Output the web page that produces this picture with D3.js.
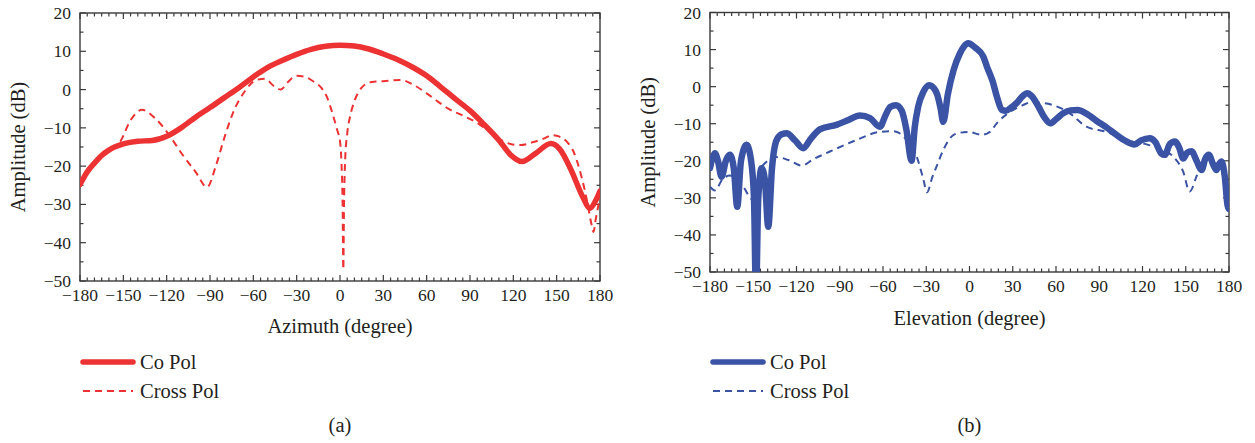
<!DOCTYPE html>
<html>
<head>
<meta charset="utf-8">
<script src="https://cdn.jsdelivr.net/npm/d3@7"></script>
<style>
  body { margin: 0; background: #fff; }
  svg { display: block; }
  text { font-family: "Liberation Serif", "DejaVu Serif", serif; fill: #231f20; }
</style>
</head>
<body>
<svg id="chart" width="1255" height="443"></svg>
<script>
'use strict';

// axis ranges and ticks
const xTicks = [-180, -150, -120, -90, -60, -30, 0, 30, 60, 90, 120, 150, 180];
const yTicks = [20, 10, 0, -10, -20, -30, -40, -50];
const legendLabels = ['Co Pol', 'Cross Pol'];

// (a) azimuth cut, [degree, dB]
const azimuthCo = [
  [-180, -24.8], [-175, -21.5], [-170, -19.2], [-165, -17.2], [-160, -15.8], [-150, -14.2],
  [-140, -13.5], [-130, -13.3], [-120, -12.2], [-110, -10], [-100, -7.2], [-90, -4.7],
  [-80, -2.1], [-70, 0.5], [-60, 3.3], [-50, 5.8], [-40, 7.6], [-30, 9.2], [-20, 10.5],
  [-10, 11.3], [0, 11.6], [10, 11.4], [20, 10.6], [30, 9.3], [40, 7.8], [50, 5.9],
  [60, 3.6], [70, 0.6], [80, -2.5], [90, -5.5], [100, -9.2], [110, -13.2], [118, -17],
  [126, -18.8], [135, -16.8], [146, -14.1], [152, -15.5], [160, -21], [168, -28],
  [173, -31], [177, -29], [180, -26.5]
];
const azimuthCross = [
  [-180, -25], [-170, -19.5], [-160, -16], [-152, -13.5], [-145, -8], [-137, -5.3],
  [-128, -7.5], [-118, -12], [-110, -16.5], [-100, -21.5], [-92, -25.5], [-86, -20],
  [-80, -12.5], [-74, -6], [-66, -0.5], [-58, 2.5], [-52, 2.8], [-46, 1], [-41, 0],
  [-36, 2], [-30, 3.6], [-25, 3.4], [-18, 2], [-13, 0.5], [-9, -2], [-5, -6.5],
  [-2, -10.5], [0, -13.5], [1, -19], [1.8, -30], [2.3, -47], [2.8, -30], [3.6, -18],
  [5, -11.5], [7, -7], [10, -3], [15, 0.5], [22, 2], [30, 2.2], [42, 2.5], [52, 1],
  [60, -1], [68, -3.2], [75, -5], [85, -6.8], [95, -8.7], [102, -10.6], [112, -13.3],
  [118, -14.2], [125, -14.5], [134, -13.7], [141, -12.8], [147, -11.9], [152, -12.3],
  [157, -13.6], [162, -16.5], [167, -22.5], [171, -29], [174, -35], [175.5, -37.2],
  [177, -34], [180, -28]
];

// (b) elevation cut, [degree, dB]
const elevationCo = [
  [-180, -22], [-178.5, -19.5], [-176.6, -18], [-174.5, -20], [-172, -24.3], [-169, -20],
  [-166.2, -18.4], [-163.5, -22], [-161.1, -32.4], [-158.5, -20], [-154.6, -15.7],
  [-151.5, -20], [-149.5, -30], [-148.1, -56], [-146.5, -30], [-144.2, -22], [-142, -25],
  [-139.6, -37.8], [-137, -22], [-133.8, -14.4], [-130, -12.8], [-126.9, -12.6],
  [-121, -14.5], [-115.3, -16.6], [-110, -14], [-103.8, -11.5], [-92.3, -10.3],
  [-84, -9], [-76, -7.8], [-69, -8.5], [-62.2, -10.8], [-58, -7.5], [-55, -5.5],
  [-51, -5], [-47, -6.5], [-43.7, -11.7], [-40.2, -20], [-38, -11], [-35.6, -5.4],
  [-32, -1.4], [-28, 0.4], [-25, -0.3], [-22.5, -2], [-20, -6], [-18.2, -9.5],
  [-15, -2], [-11, 4.5], [-6.6, 9], [-3.5, 11], [-1, 11.7], [4, 10.5], [9.6, 8.1],
  [12, 5.5], [16, 1.5], [19, -2.7], [22.5, -6.3], [25, -6.5], [29, -5.6], [33, -4.3],
  [37, -2.5], [40, -1.8], [43, -2.5], [48, -5.5], [52, -8.3], [56, -9.9], [60, -8.8],
  [65, -7.2], [70, -6.4], [75, -6.3], [82, -7.5], [88, -9.2], [95, -11], [102, -13],
  [108, -14.6], [114.5, -15.6], [119, -14.5], [125, -13.9], [129, -15], [133, -18],
  [135.5, -18.4], [139, -15.5], [142.4, -14.8], [145.5, -16.5], [148.2, -19.4],
  [151, -17.8], [154, -17.4], [157.5, -20], [161, -22.5], [163.5, -19.5], [166, -18.4],
  [169, -21], [171.3, -22.5], [173, -21], [174.8, -20.2], [177, -24], [179, -32], [180, -33]
];
const elevationCross = [
  [-180, -27], [-176.6, -28], [-170.8, -24.7], [-166, -24], [-161, -26], [-157, -27],
  [-151, -30.3], [-145.3, -22.5], [-140.6, -20.2], [-133.8, -19], [-125.6, -19.8],
  [-116.4, -21.3], [-108.4, -19.6], [-96.8, -17.5], [-78.4, -14.4], [-62.2, -12.2],
  [-52.8, -12], [-43.5, -14.4], [-36.6, -18.9], [-32, -25], [-29.5, -28.5],
  [-25.7, -24.3], [-22.9, -21.6], [-18.2, -17.1], [-10.1, -12.8], [-0.8, -12.2],
  [8.5, -13], [14.2, -12.2], [18.9, -9.9], [21.1, -9], [28.1, -6.8], [37, -5],
  [41.9, -4.3], [50, -4.4], [58.1, -5], [69.6, -7.2], [81.1, -10.8], [95, -12.2],
  [108.9, -14.4], [124, -15.7], [134.3, -17.1], [142.4, -19.3], [148.2, -22.9],
  [152.7, -28.3], [157.4, -24.3], [161, -20.5], [166, -19.5], [171.3, -21], [176, -24],
  [180, -30]
];

const panels = [
  { id: 'a', left: 80, right: 600, top: 13, bottom: 281, color: '#ec3232', coWidth: 5.5,
    co: azimuthCo, cross: azimuthCross, xTitle: 'Azimuth (degree)', xTitleY: 333,
    legendY: 362 },
  { id: 'b', left: 710, right: 1229, top: 12.5, bottom: 272, color: '#3a53a4', coWidth: 6.5,
    co: elevationCo, cross: elevationCross, xTitle: 'Elevation (degree)', xTitleY: 325,
    legendY: 362 }
];

const svg = d3.select('#chart');

panels.forEach((p) => {
  const x = d3.scaleLinear().domain([-180, 180]).range([p.left, p.right]),
    y = d3.scaleLinear().domain([-50, 20]).range([p.bottom, p.top]);

  const g = svg.append('g');
  const minorX = d3.range(-180, 181, 5).filter((v) => v % 30 !== 0),
    minorY = d3.range(-50, 21, 5).filter((v) => v % 10 !== 0);

  // tick marks on all four sides, pointing inward
  const tickStyle = (sel) => sel.attr('stroke', '#3a3a3a').attr('stroke-width', 1.2);
  const majorLen = 6, minorLen = 3.5;

  [[xTicks, majorLen], [minorX, minorLen]].forEach(([vals, len]) => {
    g.selectAll(null).data(vals).enter().append('line')
      .attr('x1', (d) => x(d)).attr('x2', (d) => x(d))
      .attr('y1', p.bottom).attr('y2', p.bottom - len).call(tickStyle);
    g.selectAll(null).data(vals).enter().append('line')
      .attr('x1', (d) => x(d)).attr('x2', (d) => x(d))
      .attr('y1', p.top).attr('y2', p.top + len).call(tickStyle);
  });
  [[yTicks, majorLen], [minorY, minorLen]].forEach(([vals, len]) => {
    g.selectAll(null).data(vals).enter().append('line')
      .attr('y1', (d) => y(d)).attr('y2', (d) => y(d))
      .attr('x1', p.left).attr('x2', p.left + len).call(tickStyle);
    g.selectAll(null).data(vals).enter().append('line')
      .attr('y1', (d) => y(d)).attr('y2', (d) => y(d))
      .attr('x1', p.right).attr('x2', p.right - len).call(tickStyle);
  });

  // frame
  g.append('rect')
    .attr('x', p.left).attr('y', p.top)
    .attr('width', p.right - p.left).attr('height', p.bottom - p.top)
    .attr('fill', 'none').attr('stroke', '#3a3a3a').attr('stroke-width', 1.4);

  // tick labels
  const fmt = d3.format('d');
  g.selectAll(null).data(xTicks).enter().append('text')
    .attr('x', (d) => x(d)).attr('y', p.bottom + 20)
    .attr('text-anchor', 'middle').attr('font-size', 17.5)
    .text((d) => fmt(d));
  g.selectAll(null).data(yTicks).enter().append('text')
    .attr('x', p.left - 9).attr('y', (d) => y(d) + 6)
    .attr('text-anchor', 'end').attr('font-size', 17.5)
    .text((d) => fmt(d));

  // axis titles
  g.append('text')
    .attr('x', (p.left + p.right) / 2).attr('y', p.xTitleY)
    .attr('text-anchor', 'middle').attr('font-size', 20.5)
    .text(p.xTitle);
  g.append('text')
    .attr('transform', 'translate(' + (p.left - 55) + ',' + ((p.top + p.bottom) / 2) + ') rotate(-90)')
    .attr('text-anchor', 'middle').attr('font-size', 20.5)
    .text('Amplitude (dB)');

  // curves, clipped to the plot area
  const clipId = 'clip-' + p.id;
  svg.append('clipPath').attr('id', clipId).append('rect')
    .attr('x', p.left).attr('y', p.top)
    .attr('width', p.right - p.left).attr('height', p.bottom - p.top);

  const line = d3.line()
    .x((d) => x(d[0]))
    .y((d) => y(d[1]))
    .curve(d3.curveMonotoneX);

  const plot = g.append('g').attr('clip-path', 'url(#' + clipId + ')');
  plot.append('path')
    .datum(p.cross)
    .attr('d', line)
    .attr('fill', 'none').attr('stroke', p.color)
    .attr('stroke-width', 2).attr('stroke-dasharray', '7,5');
  plot.append('path')
    .datum(p.co)
    .attr('d', line)
    .attr('fill', 'none').attr('stroke', p.color)
    .attr('stroke-width', p.coWidth).attr('stroke-linejoin', 'round').attr('stroke-linecap', 'round');

  // legend
  const lx = p.left + 3;
  legendLabels.forEach((label, i) => {
    const ly = p.legendY + i * 29;
    g.append('line')
      .attr('x1', lx).attr('x2', lx + 50)
      .attr('y1', ly).attr('y2', ly)
      .attr('stroke', p.color)
      .attr('stroke-width', i === 0 ? 5.5 : 2)
      .attr('stroke-linecap', i === 0 ? 'round' : 'butt')
      .attr('stroke-dasharray', i === 0 ? null : '7,5');
    g.append('text')
      .attr('x', lx + 57).attr('y', ly + 7)
      .attr('font-size', 20.5)
      .text(label);
  });

  // panel label
  g.append('text')
    .attr('x', (p.left + p.right) / 2).attr('y', 432)
    .attr('text-anchor', 'middle').attr('font-size', 20.5)
    .text('(' + p.id + ')');
});
</script>
</body>
</html>
